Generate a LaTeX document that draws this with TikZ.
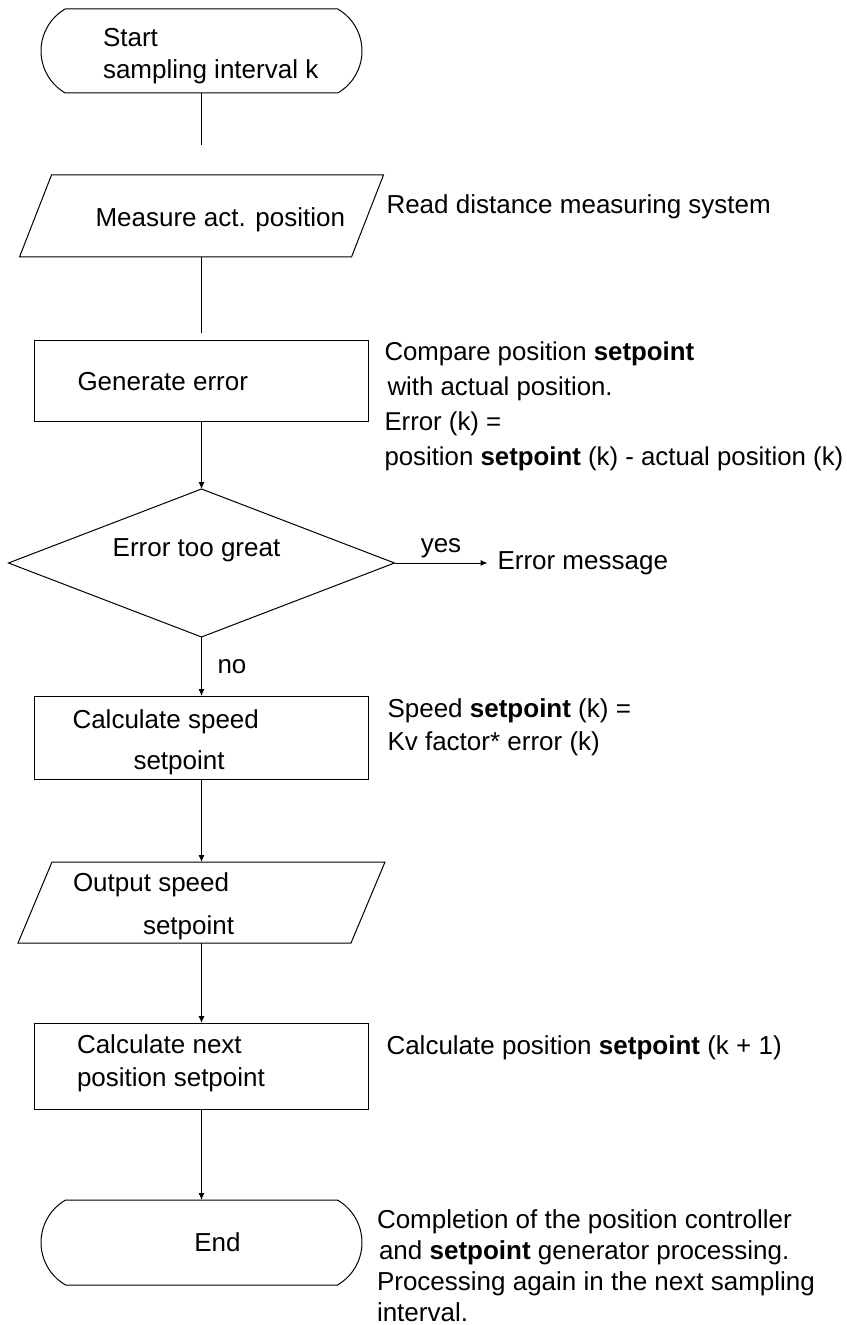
\documentclass[tikz,border=0pt]{standalone}
\usepackage{fontspec}
\setmainfont{Liberation Sans}
\usetikzlibrary{positioning, arrows.meta, shapes.geometric, shapes.misc, calc}

\begin{document}
\begin{tikzpicture}[
    x=0.5pt, y=-0.5pt,
    line width=0.5pt,
    every node/.style={inner sep=0pt, outer sep=0pt},
    txt/.style={font=\fontsize{13}{16}\selectfont, align=left, anchor=west},
    note/.style={txt},
    term/.style={draw, rounded rectangle, rounded rectangle arc length=120, inner sep=3pt, minimum width=166.5pt, minimum height=42pt},
    io/.style={rectangle, minimum width=182pt, minimum height=41pt},
    proc/.style={draw, rectangle, minimum width=167pt, minimum height=41pt},
    decide/.style={draw, diamond, inner sep=3pt, minimum width=193pt, minimum height=74pt},
    arr/.style={-{Latex[length=3.5pt, width=3pt]}},
]
\useasboundingbox (0,0) rectangle (846,1325);

% Flow chain
\node[term] (start) at (201.5,51) {\strut};
\node[io, below=41pt of start] (measure) {};
\node[proc, below=42pt of measure, minimum height=40.5pt] (generr) {};
\node[decide, below=33.5pt of generr] (check) {\strut};
\node[proc, below=29.5pt of check, minimum height=41.5pt] (calcspeed) {};
\node[io, below=41.5pt of calcspeed, minimum width=183.5pt, minimum height=40.5pt] (outspeed) {};
\node[proc, below=40pt of outspeed, minimum height=43pt] (calcnext) {};
\node[term, below=45.5pt of calcnext, minimum height=42.5pt] (finish) {\strut};

% Parallelogram outlines of the I/O steps
\draw ($(measure.north west)+(32,0)$) -- (measure.north east)
    -- ($(measure.south east)+(-32,0)$) -- (measure.south west) -- cycle;
\draw ($(outspeed.north west)+(34,0)$) -- (outspeed.north east)
    -- ($(outspeed.south east)+(-34,0)$) -- (outspeed.south west) -- cycle;

% Texts inside the shapes
\node[txt] (starttxt) at ($(start.west)+(62,5)$) {Start\\sampling interval k};
\node[txt] (measuretxt) at ($(measure.west)+(76,4)$) {Measure act. position};
\node[txt] (generrtxt) at ($(generr.west)+(43,0.5)$) {Generate error};
\node[txt, anchor=center] (checktxt) at ($(check.center)+(-5,-13)$) {Error too great};
\node[txt] (calcspeedtxt) at ($(calcspeed.west)+(38,5)$) {Calculate speed\\[4.5pt]\hspace*{30.5pt}setpoint};
\node[txt] (outspeedtxt) at ($(outspeed.west)+(55,4)$) {Output speed\\[5.5pt]\hspace*{35pt}setpoint};
\node[txt] (calcnexttxt) at ($(calcnext.west)+(42.5,-2.5)$) {Calculate next\\[0.5pt]position setpoint};
\node[txt, anchor=center] (finishtxt) at ($(finish.center)+(16,0)$) {End};

% Side notes
\node[note] (readnote) at ($(measure.east)+(3,-9)$) {Read distance measuring system};
\node[note, font=\fontsize{12.9}{17.5}\selectfont] (cmpnote) at ($(generr.east)+(16,24.5)$)
    {Compare position \textbf{setpoint}\\\hspace*{1.5pt}with actual position.\\Error (k) =\\position \textbf{setpoint} (k) - actual position (k)};
\node[note, font=\fontsize{13}{16.5}\selectfont] (speednote) at ($(calcspeed.east)+(19,-10)$)
    {Speed \textbf{setpoint} (k) =\\Kv factor* error (k)};
\node[note] (nextnote) at ($(calcnext.east)+(18,-18)$) {Calculate position \textbf{setpoint} (k + 1)};
\node[note, font=\fontsize{13}{15.5}\selectfont] (endnote) at ($(finish.east)+(15,23)$)
    {Completion of the position controller\\\hspace*{1pt}and \textbf{setpoint} generator processing.\\Processing again in the next sampling\\interval.};
\node[txt, inner xsep=5pt, right=46.5pt of check] (errmsg) {Error message};

% Connectors
\draw[shorten >=15pt] (start) -- (measure);
\draw[shorten >=4pt] (measure) -- (generr);
\draw[arr] (generr) -- (check);
\draw[arr] (check) -- (errmsg) node[txt, midway, anchor=south, yshift=2.75pt] {yes};
\draw[arr] (check) -- (calcspeed) node[txt, midway, right=8pt] {no};
\draw[arr] (calcspeed) -- (outspeed);
\draw[arr] (outspeed) -- (calcnext);
\draw[arr] (calcnext) -- (finish);
\end{tikzpicture}
\end{document}
